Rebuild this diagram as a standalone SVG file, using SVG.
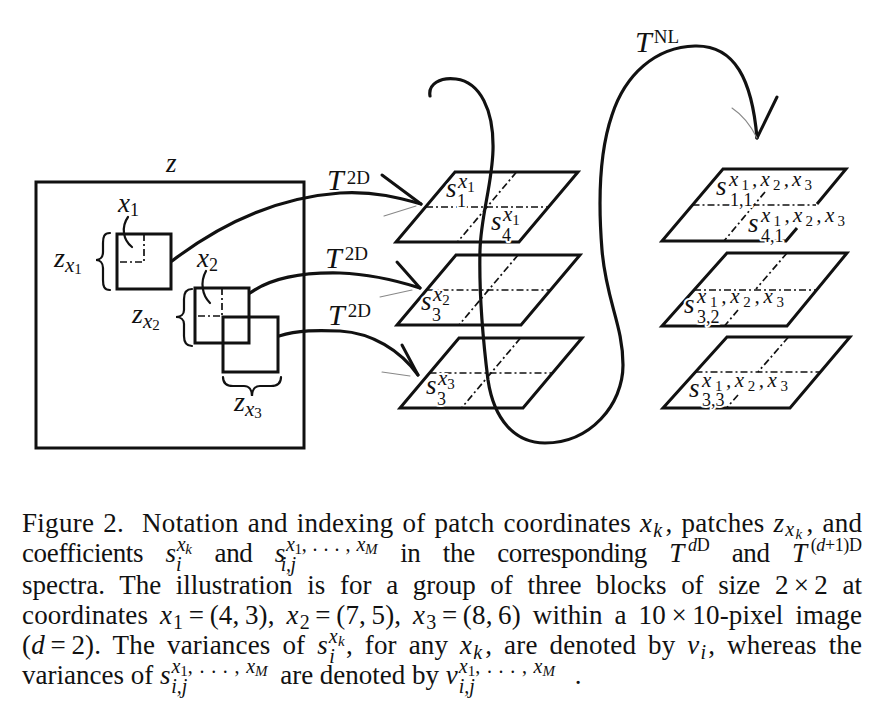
<svg xmlns="http://www.w3.org/2000/svg" width="895" height="720" viewBox="0 0 895 720">
<style>
.sq{fill:none;stroke:#111;stroke-width:3}
.pl{fill:none;stroke:#111;stroke-width:3;stroke-linejoin:miter}
.dd{fill:none;stroke:#111;stroke-width:1.7;stroke-dasharray:7 3 2 3}
.cv{fill:none;stroke:#111;stroke-width:3.2;stroke-linecap:round}
.bb{fill:none;stroke:#111;stroke-width:3;stroke-linecap:round}
.fb{fill:none;stroke:#888;stroke-width:1.1;stroke-linecap:round}
.th{fill:none;stroke:#111;stroke-width:2.2;stroke-linecap:round}
.m{font-family:"Liberation Serif",serif;fill:#111}
.it{font-style:italic}
.h{stroke:#fff;stroke-width:4;stroke-linejoin:round;paint-order:stroke}
.b{font-size:27px}
.p{font-size:21px}
.q{font-size:15px}
.u{font-size:18px}
.T{font-size:30px}
.D{font-size:19px}
.cap{font-family:"Liberation Serif",serif;font-size:27px;fill:#111}
.sc{font-size:20px}
.ss{font-size:15px}
.sx{font-size:18px}
</style>

<g id="image-z">
<rect class="sq" x="36" y="182" width="268" height="266"/>
<text class="m it b" x="166" y="172">z</text>
</g>

<g id="patch-x1">
<rect class="sq" x="117" y="234" width="54" height="55"/>
<path class="dd" d="M144,234 V262 H117"/>
<text class="m" x="118" y="212"><tspan class="it" font-size="27">x</tspan><tspan font-size="18" dy="4">1</tspan></text>
<path class="th" d="M128,217 C121,227 123,240 132,247"/>
<path class="th" d="M110,233 C104,233 103,237 103,243 V252 C103,257 100,260 96,260 C100,260 103,263 103,268 V280 C103,286 104,290 110,290"/>
<text class="m" x="54" y="267"><tspan class="it" font-size="28">z</tspan><tspan class="it" font-size="21" dy="5">x</tspan><tspan font-size="15" dy="2">1</tspan></text>
</g>

<g id="patch-x2">
<rect class="sq" x="195" y="288" width="54" height="55"/>
<path class="dd" d="M222,288 V316 H195"/>
<text class="m" x="197" y="267"><tspan class="it" font-size="27">x</tspan><tspan font-size="18" dy="4">2</tspan></text>
<path class="th" d="M206,271 C200,282 202,295 210,303"/>
<path class="th" d="M192,289 C186,289 184,293 184,299 V310 C184,314 181,317 176,317 C181,317 184,320 184,324 V336 C184,342 186,346 192,346"/>
<text class="m" x="132" y="323"><tspan class="it" font-size="28">z</tspan><tspan class="it" font-size="21" dy="5">x</tspan><tspan font-size="15" dy="2">2</tspan></text>
</g>

<g id="patch-x3">
<rect class="sq" x="223" y="317" width="55" height="55"/>
<path class="th" d="M223,377 C223,383 227,386 233,386 H244 C249,386 252,390 252,396 C252,390 255,386 260,386 H271 C277,386 281,383 281,377"/>
<text class="m" x="234" y="411"><tspan class="it" font-size="28">z</tspan><tspan class="it" font-size="21" dy="5">x</tspan><tspan font-size="15" dy="2">3</tspan></text>
</g>

<g id="spectrum-x1">
<polygon class="pl" points="455,172 578,172 519,242 396,242"/>
<line class="dd" x1="426" y1="207" x2="548" y2="207"/>
<line class="dd" x1="516.5" y1="172" x2="457.5" y2="242"/>
<text class="m h"><tspan class="it b" x="446" y="197">s</tspan><tspan class="it p" x="458" y="188">x</tspan><tspan class="q" dy="4">1</tspan><tspan class="u" x="457" y="207">1</tspan></text>
<text class="m h"><tspan class="it b" x="491" y="230">s</tspan><tspan class="it p" x="503" y="221">x</tspan><tspan class="q" dy="4">1</tspan><tspan class="u" x="502" y="241">4</tspan></text>
</g>

<g id="spectrum-x2">
<polygon class="pl" points="456,255 580,255 521,325 397,325"/>
<line class="dd" x1="426.5" y1="290" x2="550.5" y2="290"/>
<line class="dd" x1="518" y1="255" x2="459" y2="325"/>
<text class="m h"><tspan class="it b" x="421" y="310">s</tspan><tspan class="it p" x="433" y="301">x</tspan><tspan class="q" dy="4">2</tspan><tspan class="u" x="432" y="321">3</tspan></text>
</g>

<g id="spectrum-x3">
<polygon class="pl" points="459,338 582,338 523,408 400,408"/>
<line class="dd" x1="429.5" y1="373" x2="552.5" y2="373"/>
<line class="dd" x1="520.5" y1="338" x2="461.5" y2="408"/>
<text class="m h"><tspan class="it b" x="426" y="394">s</tspan><tspan class="it p" x="438" y="385">x</tspan><tspan class="q" dy="4">3</tspan><tspan class="u" x="437" y="405">3</tspan></text>
</g>

<g id="group-spectrum-1">
<path class="pl" d="M817,204 L846,169 H723 L662,241 H786 L797,228"/>
<line class="dd" x1="692.5" y1="205" x2="816" y2="205"/>
<line class="dd" x1="765" y1="192" x2="724" y2="241"/>
<text class="m h it b" x="716" y="195">s</text>
<text class="m h it p" x="729" y="186" textLength="83" lengthAdjust="spacing">x<tspan class="q" font-style="normal" dy="4">1</tspan><tspan dy="-4">,x</tspan><tspan class="q" font-style="normal" dy="4">2</tspan><tspan dy="-4">,x</tspan><tspan class="q" font-style="normal" dy="4">3</tspan></text>
<text class="m h u" x="730" y="206">1,1</text>
<text class="m h it b" x="748" y="232">s</text>
<text class="m h it p" x="761" y="222" textLength="84" lengthAdjust="spacing">x<tspan class="q" font-style="normal" dy="4">1</tspan><tspan dy="-4">,x</tspan><tspan class="q" font-style="normal" dy="4">2</tspan><tspan dy="-4">,x</tspan><tspan class="q" font-style="normal" dy="4">3</tspan></text>
<text class="m h u" x="761" y="242">4,1</text>
</g>

<g id="group-spectrum-2">
<polygon class="pl" points="727,253 847,253 787,326 662,326"/>
<line class="dd" x1="694" y1="290" x2="816.6" y2="290"/>
<line class="dd" x1="787" y1="253" x2="756" y2="289"/>
<line class="dd" x1="738" y1="310" x2="724.5" y2="326"/>
<text class="m h it b" x="684" y="313">s</text>
<text class="m h it p" x="697" y="303" textLength="87" lengthAdjust="spacing">x<tspan class="q" font-style="normal" dy="4">1</tspan><tspan dy="-4">,x</tspan><tspan class="q" font-style="normal" dy="4">2</tspan><tspan dy="-4">,x</tspan><tspan class="q" font-style="normal" dy="4">3</tspan></text>
<text class="m h u" x="697" y="323">3,2</text>
</g>

<g id="group-spectrum-3">
<polygon class="pl" points="727,337 850,337 790,408 663,408"/>
<line class="dd" x1="695.5" y1="372" x2="820.4" y2="372"/>
<line class="dd" x1="788.5" y1="337" x2="758" y2="372"/>
<line class="dd" x1="738" y1="395" x2="726.5" y2="408"/>
<text class="m h it b" x="689" y="397">s</text>
<text class="m h it p" x="702" y="387" textLength="86" lengthAdjust="spacing">x<tspan class="q" font-style="normal" dy="4">1</tspan><tspan dy="-4">,x</tspan><tspan class="q" font-style="normal" dy="4">2</tspan><tspan dy="-4">,x</tspan><tspan class="q" font-style="normal" dy="4">3</tspan></text>
<text class="m h u" x="702" y="406">3,3</text>
</g>

<g id="connectors">
<path class="cv" d="M172,261 C215,228 270,198 340,193 C375,191 400,198 421,204"/>
<path class="bb" d="M382,175 L421,204"/>
<path class="fb" d="M384,216 L416,206"/>
<text class="m" x="327" y="190"><tspan class="it T">T</tspan><tspan class="D" dx="3" dy="-6">2D</tspan></text>

<path class="cv" d="M250,293 C268,280 295,272 340,273 C370,274 398,281 420,288"/>
<path class="bb" d="M397,262 L420,288"/>
<path class="fb" d="M380,297 L412,290"/>
<text class="m" x="325" y="268"><tspan class="it T">T</tspan><tspan class="D" dx="3" dy="-8">2D</tspan></text>

<path class="cv" d="M279,336 C298,330 318,330 340,331 C372,333 400,350 418,375"/>
<path class="bb" d="M402,345 L418,375"/>
<path class="fb" d="M382,372 L410,376"/>
<text class="m" x="328" y="325"><tspan class="it T">T</tspan><tspan class="D" dx="3" dy="-8">2D</tspan></text>

<path class="cv" d="M430,96 C428,84 440,77 456,79 C480,82 494,110 493,150 C492,185 481,215 480,250 C479,290 483,340 488,380 C494,420 515,443 545,443 C590,443 623,405 623,365 C623,325 606,300 602,250 C598,200 600,150 612,115 C625,75 655,47 695,46 C735,45 752,80 757,138"/>
<path class="bb" d="M757,138 L777,97"/>
<path class="fb" d="M732,108 C741,114 750,124 757,138"/>
<text class="m" x="635" y="52"><tspan class="it T">T</tspan><tspan class="D" dx="2" dy="-9">NL</tspan></text>
</g>

<g id="caption">
<text class="cap" x="22" y="532" textLength="840" lengthAdjust="spacing" style="word-spacing:2px">Figure 2.&#160; Notation and indexing of patch coordinates <tspan class="it">x</tspan><tspan class="it sc" dx="1" dy="5">k</tspan><tspan dx="3" dy="-5">, patches </tspan><tspan class="it">z</tspan><tspan class="it sc" dx="1" dy="4">x</tspan><tspan class="it ss" dx="1" dy="3">k</tspan><tspan dx="4" dy="-7">, and</tspan></text>
<text class="cap" x="22" y="562" textLength="840" lengthAdjust="spacing" style="word-spacing:16px">coefficients <tspan class="it">s</tspan><tspan class="it sc" dx="1" dy="-11">x</tspan><tspan class="it ss" dy="3">k</tspan><tspan class="it sc" dx="-15.6" dy="17">i</tspan><tspan dx="11" dy="-9"> and </tspan><tspan class="it">s</tspan><tspan class="it sc" dx="1" dy="-11">x</tspan><tspan class="ss" dy="3">1</tspan><tspan class="sc" dy="-3">,&#8196;.&#8196;.&#8196;.&#8196;,&#8196;</tspan><tspan class="it sc">x</tspan><tspan class="it ss" dy="3">M</tspan><tspan class="it sc" dx="-96.3" dy="17">i,j</tspan><tspan dx="82" dy="-9"> in the corresponding </tspan><tspan class="it">T</tspan><tspan class="it sx" dx="4" dy="-11">d</tspan><tspan class="sx">D</tspan><tspan dy="11"> and </tspan><tspan class="it">T</tspan><tspan class="sx" dx="4" dy="-11">(</tspan><tspan class="it sx">d</tspan><tspan class="sx">+1)D</tspan></text>
<text class="cap" x="22" y="594" textLength="840" lengthAdjust="spacing" style="word-spacing:8px">spectra. The illustration is for a group of three blocks of size 2&#8201;×&#8201;2 at</text>
<text class="cap" x="22" y="624" textLength="840" lengthAdjust="spacing" style="word-spacing:5px">coordinates <tspan class="it">x</tspan><tspan class="sc" dx="1" dy="5">1</tspan><tspan dy="-5">&#8201;=&#8201;(4,&#8201;3), </tspan><tspan class="it">x</tspan><tspan class="sc" dx="1" dy="5">2</tspan><tspan dy="-5">&#8201;=&#8201;(7,&#8201;5), </tspan><tspan class="it">x</tspan><tspan class="sc" dx="1" dy="5">3</tspan><tspan dy="-5">&#8201;=&#8201;(8,&#8201;6) within a 10&#8201;×&#8201;10-pixel image</tspan></text>
<text class="cap" x="22" y="654" textLength="840" lengthAdjust="spacing" style="word-spacing:5px">(<tspan class="it">d</tspan>&#8201;=&#8201;2). The variances of <tspan class="it">s</tspan><tspan class="it sc" dx="1" dy="-11">x</tspan><tspan class="it ss" dy="3">k</tspan><tspan class="it sc" dx="-15.6" dy="17">i</tspan><tspan dx="11" dy="-9">, for any </tspan><tspan class="it">x</tspan><tspan class="it sc" dx="1" dy="5">k</tspan><tspan dx="3" dy="-5">, are denoted by </tspan><tspan class="it">v</tspan><tspan class="it sc" dx="1" dy="5">i</tspan><tspan dx="2" dy="-5">, whereas the</tspan></text>
<text class="cap" x="22" y="684">variances of <tspan class="it">s</tspan><tspan class="it sc" dx="1" dy="-11">x</tspan><tspan class="ss" dy="3">1</tspan><tspan class="sc" dy="-3">,&#8196;.&#8196;.&#8196;.&#8196;,&#8196;</tspan><tspan class="it sc">x</tspan><tspan class="it ss" dy="3">M</tspan><tspan class="it sc" dx="-96.3" dy="17">i,j</tspan><tspan dx="86" dy="-9"> are denoted by </tspan><tspan class="it">v</tspan><tspan class="it sc" dx="1" dy="-11">x</tspan><tspan class="ss" dy="3">1</tspan><tspan class="sc" dy="-3">,&#8196;.&#8196;.&#8196;.&#8196;,&#8196;</tspan><tspan class="it sc">x</tspan><tspan class="it ss" dy="3">M</tspan><tspan class="it sc" dx="-96.3" dy="17">i,j</tspan><tspan dx="100" dy="-9">.</tspan></text>
</g>
</svg>
